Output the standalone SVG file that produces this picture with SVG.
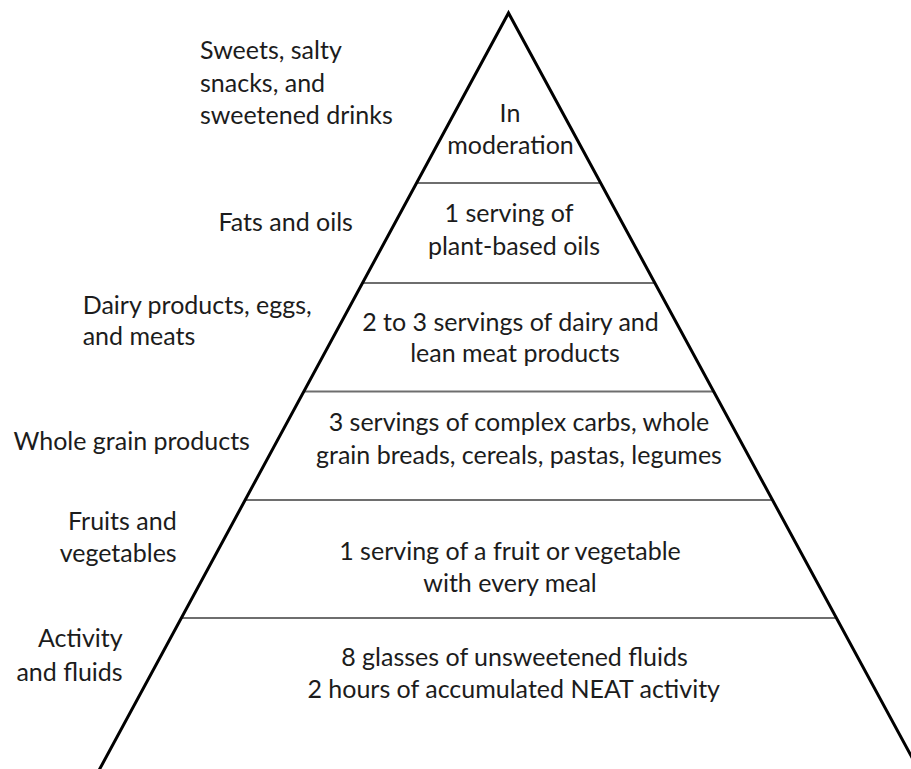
<svg xmlns="http://www.w3.org/2000/svg" width="911" height="769" viewBox="0 0 911 769">
  <style>
    text { font-family: Lato, "Open Sans", "Liberation Sans", sans-serif; font-size: 25px; fill: #1c1c1c; }
    .c { text-anchor: middle; }
    .r { text-anchor: end; }
    .sep { stroke: #6e6e6e; stroke-width: 2; fill: none; }
    .side { stroke: #000; stroke-width: 3; fill: none; stroke-linejoin: miter; stroke-miterlimit: 10; }
  </style>
  <rect width="911" height="769" fill="#fff"/>
  <g id="connectors">
    <line class="sep" x1="416" y1="183" x2="601" y2="183"/>
    <line class="sep" x1="362" y1="283" x2="655" y2="283"/>
    <line class="sep" x1="304" y1="391.5" x2="714" y2="391.5"/>
    <line class="sep" x1="246" y1="500" x2="772" y2="500"/>
    <line class="sep" x1="182" y1="618" x2="837" y2="618"/>
    <polyline class="side" points="97,774 508.5,13 921,774"/>
  </g>
  <g id="tier-sweets">
    <text x="200" y="59.3">Sweets, salty</text>
    <text x="200" y="91.7">snacks, and</text>
    <text x="200" y="124">sweetened drinks</text>
    <text class="c" x="510" y="121.7">In</text>
    <text class="c" x="510.5" y="154.3">moderation</text>
  </g>
  <g id="tier-fats">
    <text class="c" x="285.7" y="230.7">Fats and oils</text>
    <text class="c" x="509" y="222">1 serving of</text>
    <text class="c" x="514" y="255">plant-based oils</text>
  </g>
  <g id="tier-dairy">
    <text x="82.7" y="314">Dairy products, eggs,</text>
    <text x="82.7" y="345">and meats</text>
    <text class="c" x="510.5" y="330.7">2 to 3 servings of dairy and</text>
    <text class="c" x="515" y="361.7">lean meat products</text>
  </g>
  <g id="tier-grain">
    <text class="c" x="131.7" y="450">Whole grain products</text>
    <text class="c" x="519" y="430.5">3 servings of complex carbs, whole</text>
    <text class="c" x="519" y="464">grain breads, cereals, pastas, legumes</text>
  </g>
  <g id="tier-fruits">
    <text class="r" x="176.7" y="530">Fruits and</text>
    <text class="r" x="176.7" y="562">vegetables</text>
    <text class="c" x="510" y="560">1 serving of a fruit or vegetable</text>
    <text class="c" x="510" y="592">with every meal</text>
  </g>
  <g id="tier-activity">
    <text class="r" x="122.7" y="647.3">Activity</text>
    <text class="r" x="122.7" y="680.7">and fluids</text>
    <text class="c" x="514.5" y="666">8 glasses of unsweetened fluids</text>
    <text class="c" x="513.7" y="698">2 hours of accumulated NEAT activity</text>
  </g>
</svg>
